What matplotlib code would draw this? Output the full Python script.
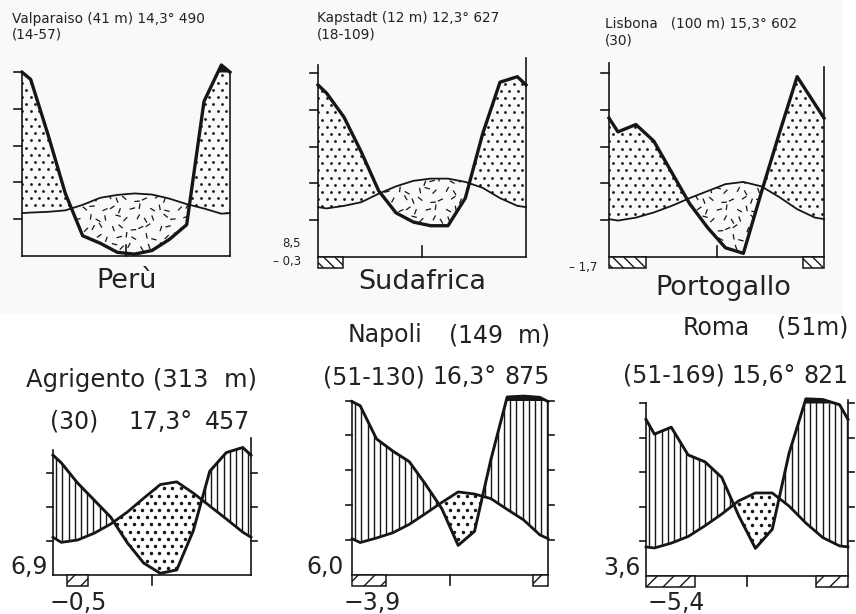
import numpy as np
import matplotlib.pyplot as plt
from matplotlib.patches import PathPatch, Rectangle
from matplotlib.path import Path
from matplotlib.collections import LineCollection

# Walter-Lieth climate diagrams: monthly mean temperature (deg C) and rain (mm),
# read off the scanned page. Southern stations start in July.
valp_temp = [11.8, 12.0, 12.4, 13.9, 15.8, 16.6, 17.0, 16.7, 15.6, 14.1, 12.9, 11.5]
valp_rain = [96, 66, 34, 11, 7, 2, 1, 3, 9, 17, 84, 138]
kap_temp = [13.2, 13.9, 14.9, 17.2, 19.2, 20.7, 21.3, 21.3, 20.4, 18.8, 16.0, 13.9]
kap_rain = [89, 76, 57, 36, 24, 19, 17, 17, 32, 67, 95, 98]
lis_temp = [9.9, 10.7, 12.1, 13.9, 16.0, 17.9, 19.8, 20.4, 19.2, 16.3, 13.0, 10.7]
lis_rain = [68, 72, 63, 46, 29, 16, 5, 2, 35, 67, 98, 83]
agr_temp = [9.6, 10.3, 12.3, 15.0, 18.5, 22.6, 26.6, 27.4, 24.1, 20.3, 16.5, 12.6]
agr_rain = [66, 54, 44, 34, 19, 7, 1, 3, 26, 61, 72, 75]
nap_temp = [9.3, 10.6, 12.1, 14.5, 17.6, 20.8, 23.8, 23.2, 21.9, 18.8, 15.8, 11.5]
nap_rain = [97, 78, 71, 65, 52, 38, 17, 25, 66, 120, 125, 118]
rom_temp = [8.1, 9.5, 11.4, 14.5, 17.9, 21.7, 24.0, 24.0, 20.2, 15.3, 11.1, 8.7]
rom_rain = [82, 86, 70, 66, 57, 35, 16, 27, 71, 124, 120, 99]

# frost months (hatched bars under the base line), as month spans
valp_frost = []
kap_frost = [(0, 1.45)]
lis_frost = [(0, 2.05), (10.8, 12)]
agr_frost = [(0.85, 2.1)]
nap_frost = [(0, 2.1), (11.1, 12)]
rom_frost = [(0, 2.9), (10.1, 12)]

W, H = 856, 614
INK = '#161616'
TXT = '#222222'

fig = plt.figure(figsize=(W / 100, H / 100), dpi=100)
fig.add_artist(Rectangle((0, 1 - 313 / H), 842 / W, 313 / H, transform=fig.transFigure,
                         color='#f9f9f9', zorder=-5))

xs = np.r_[0, np.arange(12) + 0.5, 12]
ANG = np.radians([15, 100, 62, 140, 35, 82, 165, 120, 5, 70, 150, 45, 110, 25])


def rain_units(p):
    # 20 mm = 10 deg C, above 100 mm the scale is reduced to 1/10
    p = np.asarray(p, float)
    return np.where(p <= 100, p / 20, 5 + (p - 100) / 200)


def closed(v):
    v = np.asarray(v, float)
    e = (v[0] + v[-1]) / 2
    return np.r_[e, v, e]


def ftext(x, y, s, size, ha='left', **kw):
    fig.text(x / W, 1 - y / H, s, fontsize=size, ha=ha, va='center', color=TXT, **kw)


def region(ax, y1, y2, where):
    coll = ax.fill_between(xs, y1, y2, where=where, interpolate=True,
                           facecolor='none', edgecolor='none', lw=0)
    paths = coll.get_paths()
    if len(paths) == 0:
        return None
    patch = PathPatch(Path.make_compound_path(*paths), transform=ax.transData,
                      facecolor='none', edgecolor='none')
    ax.add_patch(patch)
    return patch


def dots(ax, patch, mx, my, step, ms):
    px, py = [], []
    for j in range(int(6 / (step * 0.85 * my)) + 2):
        off = (j % 2) * step / 2
        for xx in np.arange(off, 12 / mx, step):
            px.append(xx * mx)
            py.append(j * step * 0.85 * my)
    ln, = ax.plot(px, py, 'o', ms=ms, color=INK, mec='none', zorder=1)
    ln.set_clip_path(patch)


def dashes(ax, patch, mx, my, step, length):
    segs = []
    for j in range(int(6 / (step * my)) + 2):
        for i in range(int(12 / (mx * step)) + 2):
            a = ANG[(i * 5 + j * 3) % len(ANG)]
            cx = (i + 0.5 * (j % 2) + ((i * 3 + j * 7) % 5 - 2) * 0.12) * step
            cy = (j + ((i * 7 + j) % 5 - 2) * 0.12) * step
            dx, dy = length / 2 * np.cos(a), length / 2 * np.sin(a)
            segs.append([((cx - dx) * mx, (cy - dy) * my), ((cx + dx) * mx, (cy + dy) * my)])
    lc = LineCollection(segs, colors=INK, lw=0.9, zorder=1)
    ax.add_collection(lc)
    lc.set_clip_path(patch)


def vlines(ax, patch, mx, step):
    segs = [[(x, 0), (x, 6)] for x in np.arange(step * mx / 2, 12, step * mx)]
    lc = LineCollection(segs, colors=INK, lw=1.0, zorder=1)
    ax.add_collection(lc)
    lc.set_clip_path(patch)


def panel(left, right, base, scale, temp, rain, frost, upper, spine_top, ticks, right_ticks):
    ax = fig.add_axes([left / W, 1 - base / H, (right - left) / W, 6 * scale / H])
    ax.set_xlim(0, 12)
    ax.set_ylim(0, 6)
    ax.set_axis_off()
    mx = 12 / (right - left)
    my = 1 / scale

    tu = closed(np.asarray(temp) / 10)
    pu = closed(rain_units(rain))
    pc = np.minimum(pu, 5)

    wet = region(ax, tu, pc, pu > tu)
    dry = region(ax, pu, tu, tu > pu)
    if upper:
        if wet is not None:
            dots(ax, wet, mx, my, 8.5, 2.0)
        if dry is not None:
            dashes(ax, dry, mx, my, 9.5, 5.5)
    else:
        if wet is not None:
            vlines(ax, wet, mx, 6.2)
        if dry is not None:
            dots(ax, dry, mx, my, 8.5, 2.5)
    ax.fill_between(xs, 5, pu, where=pu > 5, interpolate=True, color=INK, lw=0, zorder=2)

    ax.plot(xs, tu, color=INK, lw=1.3 if upper else 2.0, zorder=3, clip_on=False)
    ax.plot(xs, pu, color=INK, lw=2.4 if upper else 2.1, zorder=3, clip_on=False,
            solid_joinstyle='round')

    lw = 1.2
    ax.plot([0, 12], [0, 0], color=INK, lw=lw, clip_on=False)
    ax.plot([0, 0], [0, spine_top[0]], color=INK, lw=lw, clip_on=False)
    ax.plot([12, 12], [0, spine_top[1]], color=INK, lw=lw, clip_on=False)
    tl = 8 if upper else 6
    for u in ticks:
        ax.plot([0, -tl * mx], [u, u], color=INK, lw=lw, clip_on=False)
    for u in right_ticks:
        ax.plot([12, 12 + tl * mx], [u, u], color=INK, lw=lw, clip_on=False)
    if upper:
        ax.plot([6, 6], [0, 11 * my], color=INK, lw=lw, clip_on=False)
    else:
        ax.plot([6, 6], [0, -10 * my], color=INK, lw=lw, clip_on=False)

    h = 11 * my
    for a, b in frost:
        ax.add_patch(Rectangle((a, -h), b - a, h, facecolor='white', edgecolor=INK, lw=1.1,
                               hatch='\\\\\\' if upper else '//', clip_on=False, zorder=2))
    return ax


panel(22, 230, 256, 36.8, valp_temp, valp_rain, valp_frost, True, (5.0, 5.0),
      [1, 2, 3, 4, 5], [])
panel(318, 526, 257, 36.8, kap_temp, kap_rain, kap_frost, True, (5.22, 5.41),
      [1, 2, 3, 4, 5], [])
panel(609, 824, 257, 36.8, lis_temp, lis_rain, lis_frost, True, (5.27, 5.16),
      [1, 2, 3, 4, 5], [])
panel(53, 251, 575, 34.0, agr_temp, agr_rain, agr_frost, False, (3.68, 4.03),
      [1, 2, 3], [1, 2, 3])
panel(352, 548, 575, 34.9, nap_temp, nap_rain, nap_frost, False, (5.0, 5.0),
      [1, 2, 3, 4, 5], [1, 2, 3, 4, 5])
panel(646, 848, 576, 34.6, rom_temp, rom_rain, rom_frost, False, (5.0, 5.09),
      [1, 2, 3, 4, 5], [1, 2, 3, 4, 5])

# station headings
ftext(12, 19, 'Valparaiso (41 m) 14,3° 490', 9.8)
ftext(12, 35, '(14-57)', 9.8)
ftext(317, 18, 'Kapstadt (12 m) 12,3° 627', 9.8)
ftext(317, 34, '(18-109)', 9.8)
ftext(605, 24, 'Lisbona   (100 m) 15,3° 602', 9.8)
ftext(605, 40, '(30)', 9.8)

ftext(127, 281, 'Perù', 19.5, ha='center')
ftext(422, 282, 'Sudafrica', 19.5, ha='center')
ftext(723, 288, 'Portogallo', 19.5, ha='center')

ftext(301, 243, '8,5', 8.5, ha='right')
ftext(301, 262, '– 0,3', 8.5, ha='right')
ftext(597, 267, '– 1,7', 8.5, ha='right')

ftext(142, 380, 'Agrigento (313  m)', 17.5, ha='center')
ftext(50, 422, '(30)', 17)
ftext(128, 422, '17,3°', 17)
ftext(250, 422, '457', 17, ha='right')

ftext(348, 335, 'Napoli', 17)
ftext(550, 335, '(149  m)', 17, ha='right')
ftext(323, 377, '(51-130)', 17)
ftext(432, 377, '16,3°', 17)
ftext(550, 377, '875', 17, ha='right')

ftext(683, 328, 'Roma', 17)
ftext(848, 328, '(51m)', 17, ha='right')
ftext(623, 376, '(51-169)', 17)
ftext(731, 376, '15,6°', 17)
ftext(848, 376, '821', 17, ha='right')

ftext(48, 567, '6,9', 17, ha='right')
ftext(50, 603, '−0,5', 17)
ftext(344, 567, '6,0', 17, ha='right')
ftext(343, 603, '−3,9', 17)
ftext(641, 568, '3,6', 17, ha='right')
ftext(648, 603, '−5,4', 17)

fig.savefig('out.png', dpi=100)
